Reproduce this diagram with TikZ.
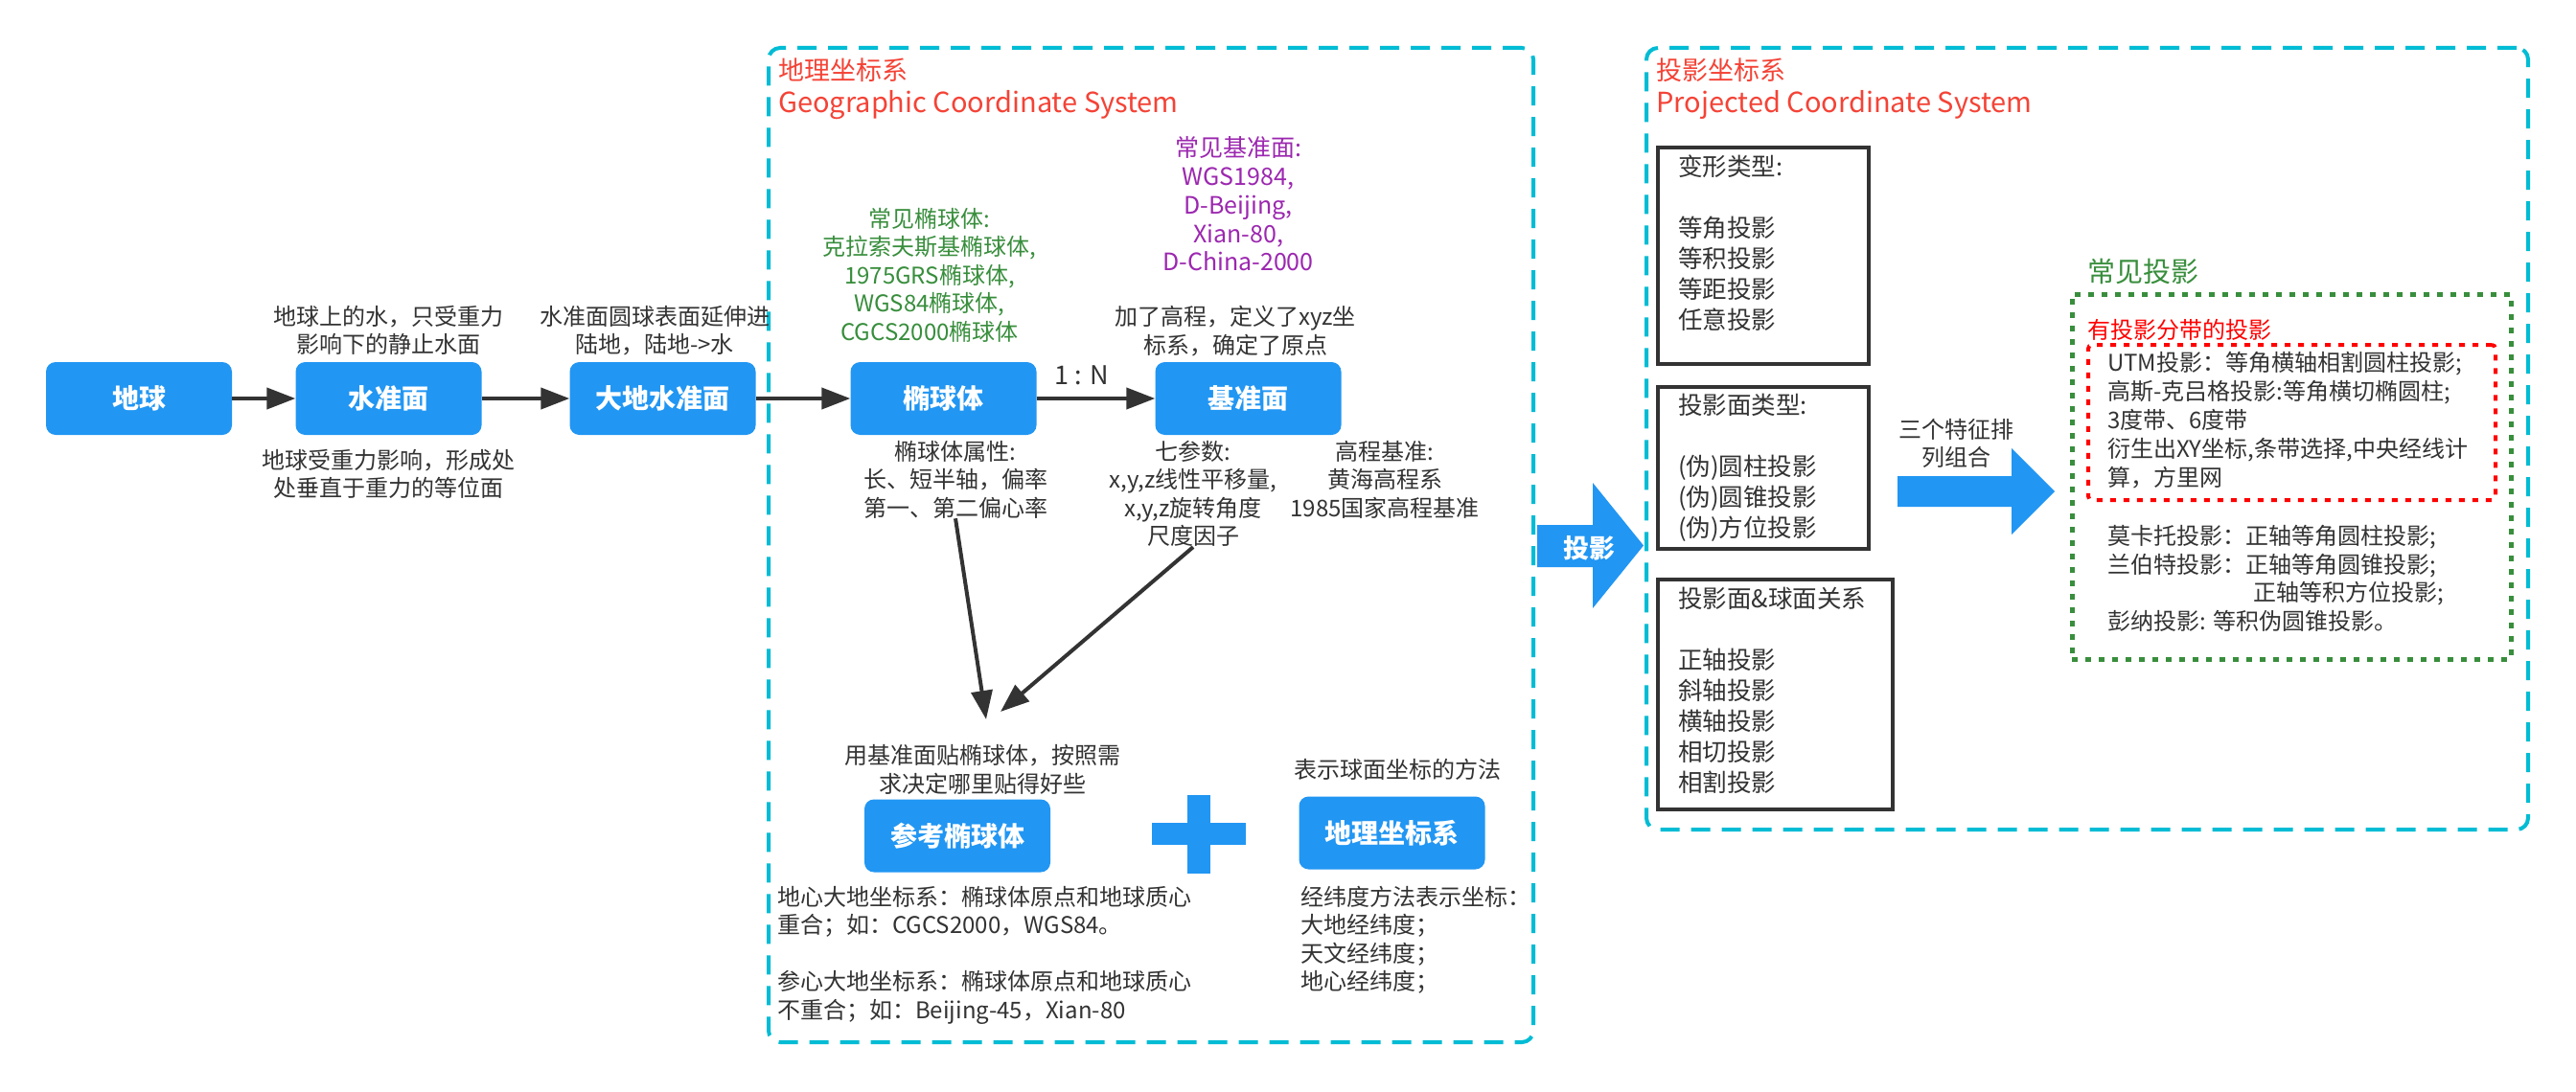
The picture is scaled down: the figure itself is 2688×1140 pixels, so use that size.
\documentclass[tikz,border=0pt]{standalone}
\usepackage{fontspec}
\setmainfont{Noto Sans CJK SC}
\usetikzlibrary{arrows.meta}
\definecolor{cblue}{HTML}{2196F3}
\definecolor{ccyan}{HTML}{00BCD4}
\definecolor{cred}{HTML}{F44336}
\definecolor{cgreen}{HTML}{388E3C}
\definecolor{cpurple}{HTML}{9C27B0}
\definecolor{cdark}{HTML}{333333}
\definecolor{pured}{HTML}{FF0000}
\begin{document}
\begin{tikzpicture}[x=1pt,y=-1pt,
  bluebox/.style={rectangle, rounded corners=10pt, fill=cblue, text=white,
    minimum width=194pt, minimum height=76pt, inner sep=0pt,
    font=\fontsize{28}{34}\selectfont\bfseries},
  txt/.style={inner sep=0pt, text=cdark, align=center, font=\fontsize{24}{29.5}\selectfont},
  ltxt/.style={txt, align=left},
  listtxt/.style={inner sep=0pt, text=cdark, align=left, font=\fontsize{25.5}{32}\selectfont},
  titletxt/.style={inner sep=0pt, text=cred, align=left, font=\fontsize{27}{34}\selectfont},
  conn/.style={draw=cdark, line width=4pt, -{Triangle[length=30pt,width=22pt]}},
  framebox/.style={rectangle, draw=ccyan, line width=4pt, dash pattern=on 20pt off 12pt,
    rounded corners=12pt, inner sep=0pt},
  listbox/.style={rectangle, draw=cdark, line width=4.5pt, inner sep=0pt},
  dotbox/.style={rectangle, line width=5pt, dash pattern=on 6pt off 8pt, inner sep=0pt}
]
\useasboundingbox (0,0) rectangle (2688,1140);
\fill[white] (0,0) rectangle (2688,1140);

% frames
\node[framebox, minimum width=798pt, minimum height=1038pt] (geoframe) at (1201,569) {};
\node[framebox, minimum width=920pt, minimum height=816pt] (projframe) at (2178,458) {};

% titles
\node[titletxt, anchor=west] (geotitle) at (812,93) {地理坐标系\\{\fontsize{29}{34}\selectfont Geographic Coordinate System}};
\node[titletxt, anchor=west] (projtitle) at (1728,93) {投影坐标系\\{\fontsize{29}{34}\selectfont Projected Coordinate System}};

% main flow boxes
\node[bluebox] (earth) at (145,416) {地球};
\node[bluebox] (shuizhun) at (405.5,416) {水准面};
\node[bluebox] (dadi) at (691.5,416) {大地水准面};
\node[bluebox] (tuoqiu) at (984.5,416) {椭球体};
\node[bluebox] (jizhun) at (1302.5,416) {基准面};
\node[bluebox] (cankao) at (999,872.5) {参考椭球体};
\node[bluebox] (dlzb) at (1452.5,869.5) {地理坐标系};

% texts
\node[txt] (t1) at (405,345) {地球上的水，只受重力\\影响下的静止水面};
\node[txt] (t2) at (405,495) {地球受重力影响，形成处\\处垂直于重力的等位面};
\node[txt] (t3) at (683,345) {水准面圆球表面延伸进\\陆地，陆地->水};
\node[txt, text=cgreen] (tgreen) at (970,287) {常见椭球体:\\克拉索夫斯基椭球体,\\1975GRS椭球体,\\WGS84椭球体,\\CGCS2000椭球体};
\node[txt, text=cpurple, font=\fontsize{25}{29.7}\selectfont] (tpurple) at (1292,213) {常见基准面:\\WGS1984,\\D-Beijing,\\Xian-80,\\D-China-2000};
\node[txt] (tgc) at (1289,345.5) {加了高程，定义了xyz坐\\标系，确定了原点};
\node[txt] (attr) at (997,500.5) {椭球体属性:\\长、短半轴，偏率\\第一、第二偏心率};
\node[txt] (qcs) at (1245,515.5) {七参数:\\x,y,z线性平移量,\\x,y,z旋转角度\\尺度因子};
\node[txt] (gcjz) at (1445,500.5) {高程基准:\\黄海高程系\\1985国家高程基准};
\node[txt] (tie) at (1025,803.5) {用基准面贴椭球体，按照需\\求决定哪里贴得好些};
\node[txt] (fangfa) at (1458,803) {表示球面坐标的方法};
\node[ltxt, anchor=west] (dxdd) at (811,997) {地心大地坐标系：椭球体原点和地球质心\\重合；如：CGCS2000，WGS84。\\[29.5pt]参心大地坐标系：椭球体原点和地球质心\\不重合；如：Beijing-45，Xian-80};
\node[ltxt, anchor=west] (jwd) at (1357,981.5) {经纬度方法表示坐标：\\大地经纬度；\\天文经纬度；\\地心经纬度；};

% connectors
\draw[conn] (earth) -- (shuizhun);
\draw[conn] (shuizhun) -- (dadi);
\draw[conn] (dadi) -- (tuoqiu);
\draw[conn] (tuoqiu) -- node[txt, pos=0.38, above=12pt, font=\fontsize{27}{32}\selectfont] (ratio) {1 : N} (jizhun);
\coordinate (m1) at (1029,751);
\coordinate (m2) at (1044,743);
\draw[conn] (attr.south) -- (m1);
\draw[conn] (qcs.south) -- (m2);

% plus sign
\fill[cblue] (1239,830) rectangle (1263,912);
\fill[cblue] (1202,859) rectangle (1300,882);

% projection arrow
\fill[cblue] (1604,548) -- (1662,548) -- (1662,504) -- (1715,569.5) -- (1662,635) -- (1662,592) -- (1604,592) -- cycle;
\node[inner sep=0pt, text=white, font=\fontsize{27}{32}\selectfont\bfseries] (projlbl) at (1658,572) {投影};

% list boxes
\node[listbox, minimum width=220pt, minimum height=226pt] (b1) at (1840,267) {};
\node[listbox, minimum width=220pt, minimum height=169pt] (b2) at (1840,488.5) {};
\node[listbox, minimum width=245pt, minimum height=240pt] (b3) at (1852.5,725) {};
\node[listtxt, anchor=west] (b1t) at (1751,253.5) {变形类型:\\[32pt]等角投影\\等积投影\\等距投影\\任意投影};
\node[listtxt, anchor=west] (b2t) at (1751,488) {投影面类型:\\[32pt](伪)圆柱投影\\(伪)圆锥投影\\(伪)方位投影};
\node[listtxt, anchor=west] (b3t) at (1751,721) {投影面\&球面关系\\[32pt]正轴投影\\斜轴投影\\横轴投影\\相切投影\\相割投影};

% combine arrow
\node[txt] (sange) at (2041,463) {三个特征排\\列组合};
\fill[cblue] (1980,497) -- (2099,497) -- (2099,468) -- (2144,513) -- (2099,558) -- (2099,529) -- (1980,529) -- cycle;

% common projections
\node[inner sep=0pt, text=cgreen, font=\fontsize{29}{35}\selectfont, anchor=west] (cjty) at (2178,283) {常见投影};
\node[dotbox, draw=cgreen, minimum width=458pt, minimum height=381pt] (gbox) at (2391,497.5) {};
\node[inner sep=0pt, text=pured, font=\fontsize{24}{29.5}\selectfont, anchor=west] (fdty) at (2178,344) {有投影分带的投影};
\node[dotbox, draw=pured, line width=4pt, rounded corners=4pt, minimum width=425pt, minimum height=162pt] (rbox) at (2391.5,441) {};
\node[ltxt, anchor=west, font=\fontsize{24}{30}\selectfont] (utm) at (2199,439) {UTM投影：等角横轴相割圆柱投影;\\高斯-克吕格投影:等角横切椭圆柱;\\3度带、6度带\\衍生出XY坐标,条带选择,中央经线计\\算，方里网};
\node[ltxt, anchor=west, font=\fontsize{24}{29.5}\selectfont] (others) at (2199,604) {莫卡托投影：正轴等角圆柱投影;\\兰伯特投影：正轴等角圆锥投影;\\\hphantom{兰伯特投影：}\hspace{8pt}正轴等积方位投影;\\彭纳投影: 等积伪圆锥投影。};
\end{tikzpicture}
\end{document}
